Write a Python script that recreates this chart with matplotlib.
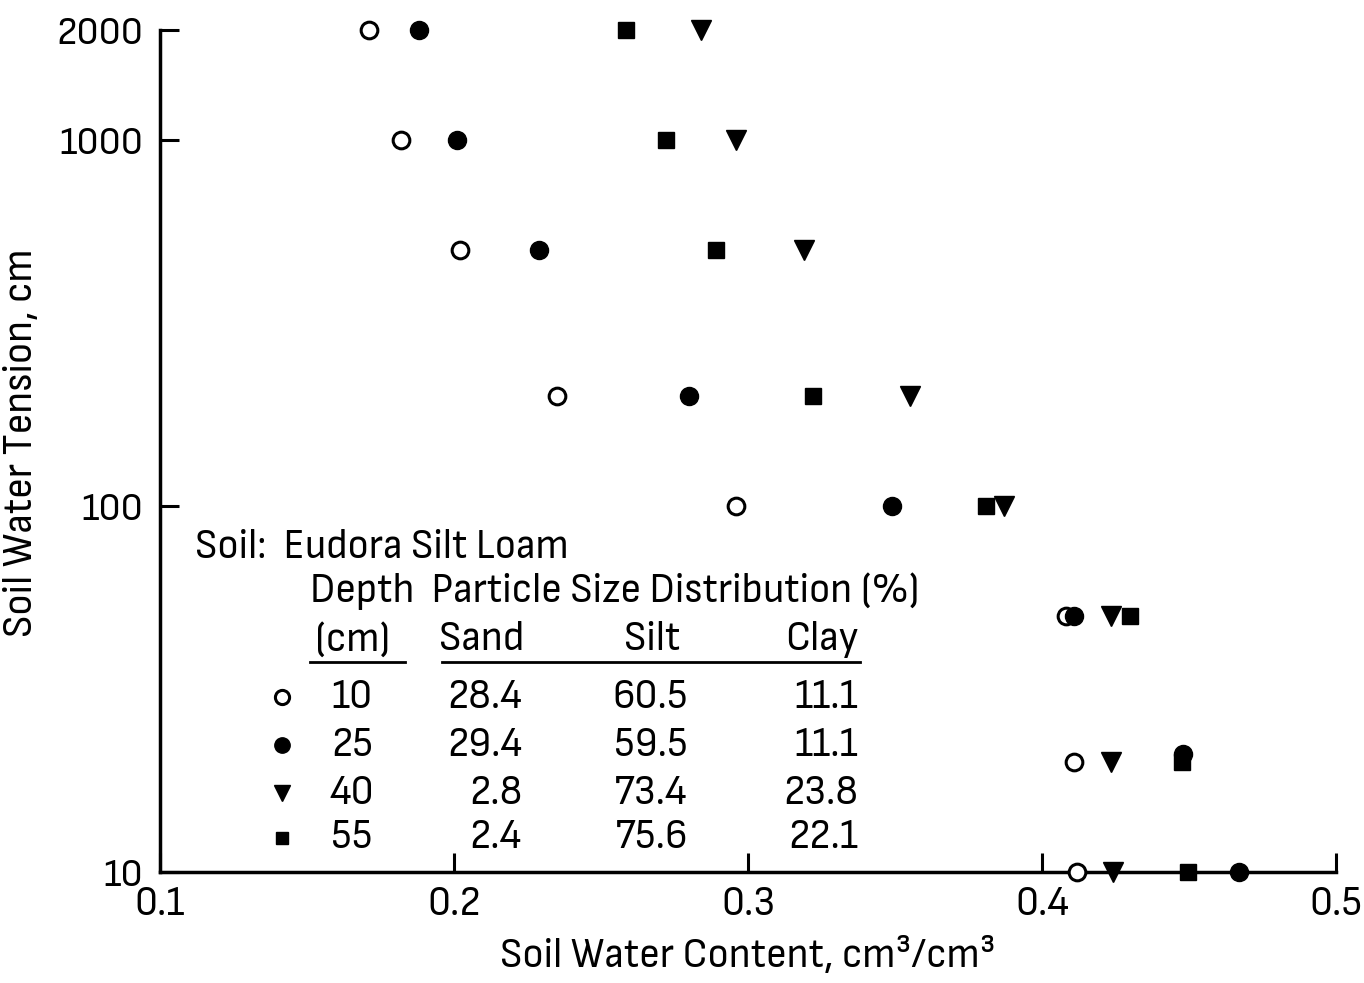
import matplotlib
matplotlib.use("Agg")
import matplotlib.pyplot as plt
from matplotlib.lines import Line2D

plt.rcParams['font.family'] = ['Sofia Sans Semi Condensed', 'Liberation Sans', 'DejaVu Sans']

# soil water tension (cm) and water content (cm3/cm3) per depth
tension = [2000, 1000, 500, 200, 100, 50, 20, 10]
tension_25 = [2000, 1000, 500, 200, 100, 50, 21, 10]
theta_10 = [0.171, 0.182, 0.202, 0.235, 0.296, 0.408, 0.411, 0.412]
theta_25 = [0.188, 0.201, 0.229, 0.280, 0.349, 0.411, 0.448, 0.467]
theta_40 = [0.284, 0.296, 0.319, 0.355, 0.387, 0.4235, 0.4235, 0.424]
theta_55 = [0.2585, 0.272, 0.289, 0.322, 0.381, 0.430, 0.4476, 0.4497]

depths = ["10", "25", "40", "55"]
sand = ["28.4", "29.4", "2.8", "2.4"]
silt = ["60.5", "59.5", "73.4", "75.6"]
clay = ["11.1", "11.1", "23.8", "22.1"]

xticks = [0.1, 0.2, 0.3, 0.4, 0.5]
yticks = [10, 100, 1000, 2000]

W, H = 1364, 983
fig = plt.figure(figsize=(W / 100, H / 100), dpi=100)
ax = fig.add_axes([160 / W, 1 - 872 / H, (1336 - 160) / W, (872 - 30) / H])

styles = [
    (theta_10, tension, dict(marker='o', mfc='white', mec='black', mew=2.2, ms=12)),
    (theta_25, tension_25, dict(marker='o', mfc='black', mec='black', ms=13)),
    (theta_40, tension, dict(marker='v', mfc='black', mec='black', ms=14)),
    (theta_55, tension, dict(marker='s', mfc='black', mec='black', ms=11)),
]
for x, y, st in styles:
    ax.plot(x, y, ls='none', clip_on=False, zorder=5, **st)

ax.set_yscale('log')
ax.set_xlim(0.1, 0.5)
ax.set_ylim(10, 2000)
ax.set_xticks(xticks)
ax.set_xticklabels([f"{t:.1f}" for t in xticks])
ax.set_yticks(yticks)
ax.set_yticklabels([str(t) for t in yticks])
ax.yaxis.set_minor_locator(matplotlib.ticker.NullLocator())
ax.tick_params(direction='in', length=14, width=2.2, labelsize=30)
ax.tick_params(axis='x', pad=10)
ax.tick_params(axis='y', pad=12, labelsize=29)
for s in ['top', 'right']:
    ax.spines[s].set_visible(False)
for s in ['left', 'bottom']:
    ax.spines[s].set_linewidth(2.5)

ax.set_xlabel("Soil Water Content, cm³/cm³", fontsize=30, labelpad=10)
ax.set_ylabel("Soil Water Tension, cm", fontsize=30)
ax.yaxis.set_label_coords(-0.102, 0.51)

# legend table
def fx(px):
    return px / W

def fy(py):
    return 1 - py / H

fs = 30
fig.text(fx(195), fy(547), "Soil:  Eudora Silt Loam", fontsize=fs, va='center')
fig.text(fx(310), fy(591), "Depth  Particle Size Distribution (%)", fontsize=fs, va='center')
heads = [("(cm)", 353), ("Sand", 482), ("Silt", 652), ("Clay", 822)]
for txt, px in heads:
    fig.text(fx(px), fy(640), txt, fontsize=fs, va='center', ha='center')
fig.add_artist(Line2D([fx(310), fx(405)], [fy(662), fy(662)], color='black', lw=2))
fig.add_artist(Line2D([fx(442), fx(860)], [fy(662), fy(662)], color='black', lw=2))

rows_y = [697, 745, 793, 838]
for i, (x, y, st) in enumerate(styles):
    yy = fy(rows_y[i])
    st2 = dict(st)
    st2['ms'] = st['ms'] * 0.85
    fig.add_artist(Line2D([fx(282)], [yy], ls='none', **st2))
    fig.text(fx(352), yy, depths[i], fontsize=fs, va='center', ha='center')
    fig.text(fx(522), yy, sand[i], fontsize=fs, va='center', ha='right')
    fig.text(fx(688), yy, silt[i], fontsize=fs, va='center', ha='right')
    fig.text(fx(858), yy, clay[i], fontsize=fs, va='center', ha='right')

fig.savefig("out.png", dpi=100)
